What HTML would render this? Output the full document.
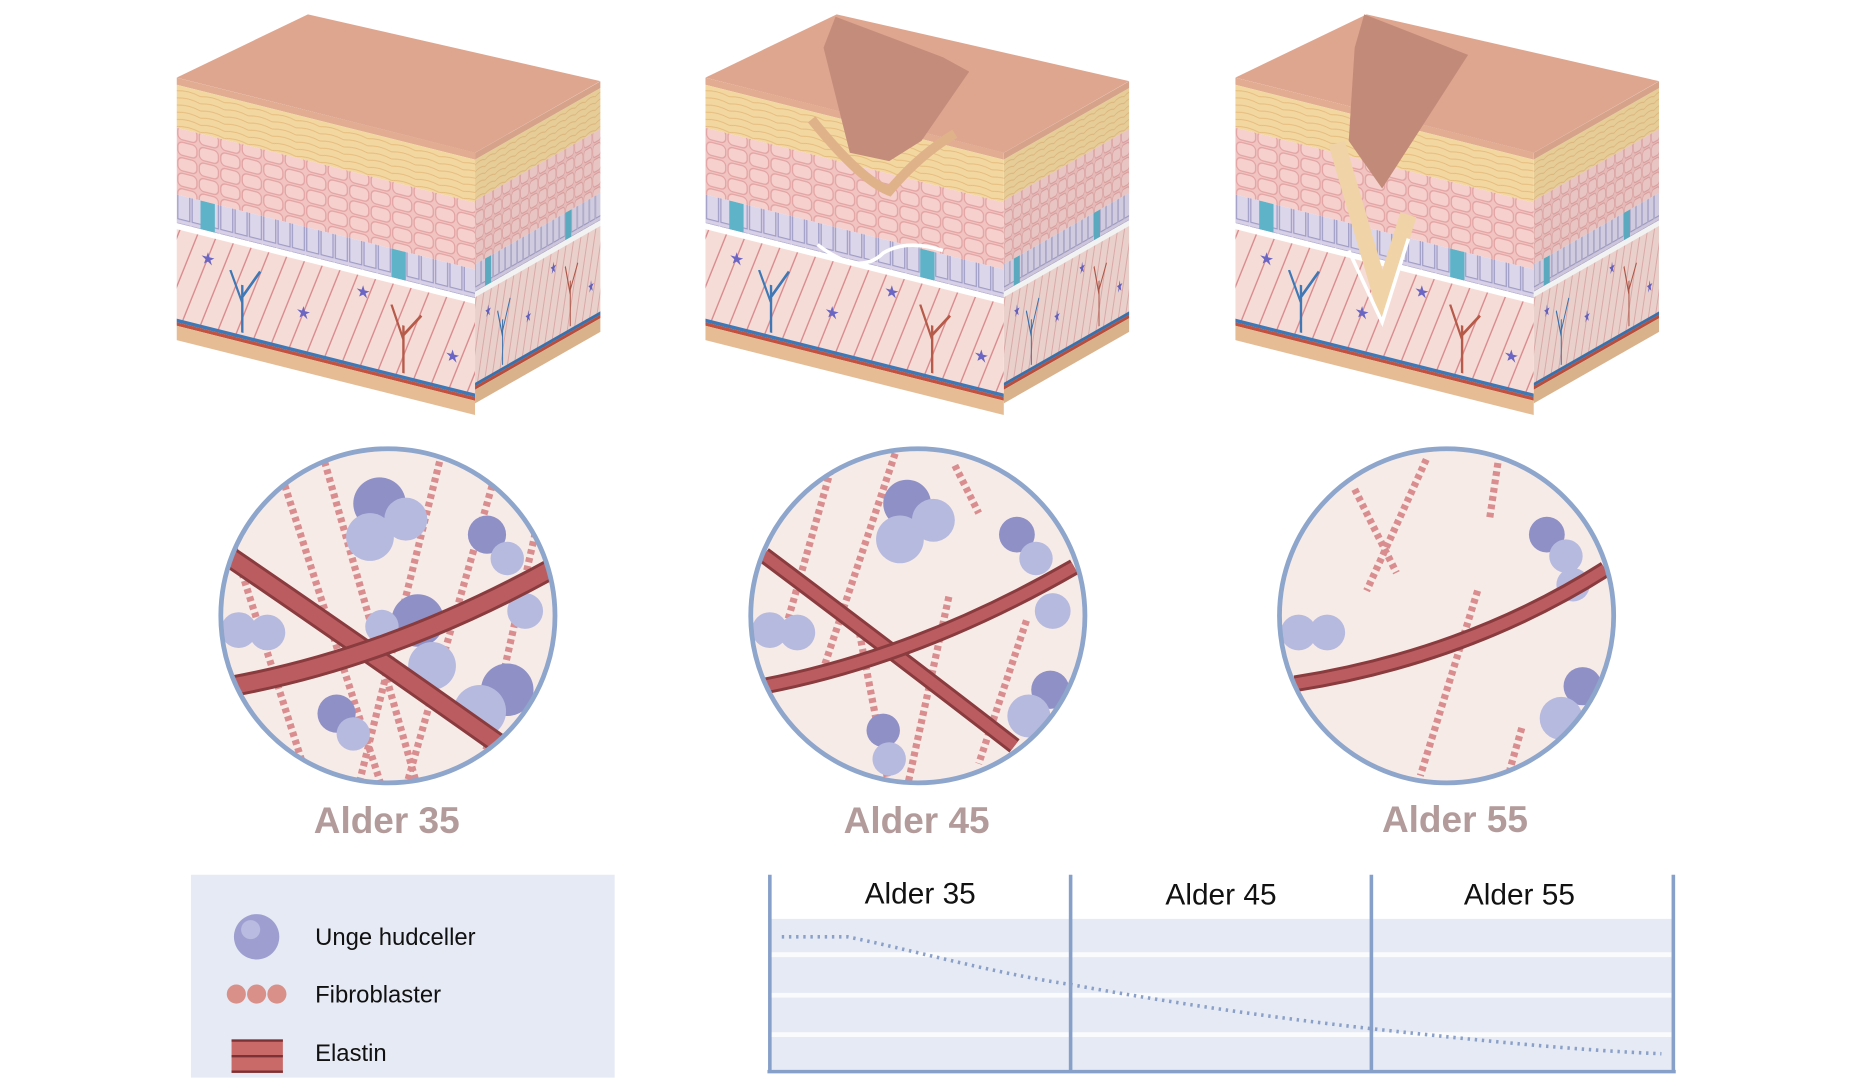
<!DOCTYPE html>
<html><head><meta charset="utf-8"><style>
html,body{margin:0;padding:0;background:#fff;width:1850px;height:1080px;overflow:hidden}
svg{display:block}
text{font-family:"Liberation Sans","DejaVu Sans",sans-serif}
</style></head><body>
<svg width="1850" height="1080" viewBox="0 0 1550 905" preserveAspectRatio="none" xmlns="http://www.w3.org/2000/svg">
<defs>
  <pattern id="fib" width="14" height="14" patternUnits="userSpaceOnUse" patternTransform="rotate(20)">
    <rect width="14" height="14" fill="#f6dcd6"/>
    <line x1="4" y1="0" x2="4" y2="14" stroke="#d7868a" stroke-width="1"/>
  </pattern>
  <pattern id="cells" width="18" height="13" patternUnits="userSpaceOnUse">
    <rect width="18" height="13" fill="#f1c4c2"/>
    <rect x="1" y="1" width="16" height="11" rx="4" fill="#f5d0cd" stroke="#e2a2a2" stroke-width="1"/>
  </pattern>
  <pattern id="yel" width="20" height="6" patternUnits="userSpaceOnUse">
    <rect width="20" height="6" fill="#f3d7a0"/>
    <path d="M0 5 Q10 2 20 5" stroke="#e5bb7d" fill="none" stroke-width="0.8"/>
  </pattern>
  <pattern id="base" width="12" height="30" patternUnits="userSpaceOnUse">
    <rect width="12" height="30" fill="#d8d0e6"/>
    <rect x="1" y="2" width="10" height="26" fill="#dcd6ea" stroke="#9e9cc6" stroke-width="1"/>
  </pattern>
  <g id="layers">
    <rect x="0" y="0" width="260" height="6" fill="#e2ac92"/>
    <rect x="0" y="6" width="260" height="36" fill="url(#yel)"/>
    <rect x="0" y="42" width="260" height="56" fill="url(#cells)"/>
    <rect x="0" y="98" width="260" height="24" fill="url(#base)"/>
    <rect x="20" y="98" width="12" height="24" fill="#5fb3c9"/>
    <rect x="180" y="98" width="12" height="24" fill="#5fb3c9"/>
    <rect x="0" y="122" width="260" height="5" fill="#ffffff"/>
    <rect x="0" y="127" width="260" height="80" fill="url(#fib)"/>
    <path d="M55 200 L55 160 M55 175 L45 150 M55 170 L70 145" stroke="#3f78b5" stroke-width="2" fill="none"/>
    <path d="M190 200 L190 160 M190 172 L180 145 M190 168 L205 148" stroke="#b65a4a" stroke-width="2" fill="none"/>
    <text x="20" y="150" font-size="14" fill="#6b66c4">★</text>
    <text x="100" y="175" font-size="14" fill="#6b66c4">★</text>
    <text x="150" y="145" font-size="14" fill="#6b66c4">★</text>
    <text x="225" y="180" font-size="14" fill="#6b66c4">★</text>
    <rect x="0" y="202" width="260" height="3" fill="#3f78b5"/>
    <rect x="0" y="205" width="260" height="3" fill="#c2523f"/>
    <rect x="0" y="208" width="260" height="14" fill="#e5bc94"/>
  </g>
  <g id="block">
    <polygon points="148,65 258,12 503,68 398,128" fill="#dea68f"/>
    <g transform="translate(148,65) skewY(14.1)">
      <svg width="250" height="220" viewBox="0 0 250 220" overflow="hidden"><use href="#layers"/></svg>
    </g>
    <g transform="translate(398,128) skewY(-29.7)">
      <svg width="105" height="210" viewBox="0 0 250 220" preserveAspectRatio="none" overflow="hidden"><use href="#layers"/></svg>
      <rect width="105" height="210" fill="#000" opacity="0.05"/>
    </g>
  </g>
  <clipPath id="c1"><circle cx="325" cy="516" r="140"/></clipPath>
  <clipPath id="c2"><circle cx="769" cy="516" r="140"/></clipPath>
  <clipPath id="c3"><circle cx="1212" cy="516" r="140"/></clipPath>
</defs>

<!-- Blocks -->
<use href="#block"/>
<use href="#block" x="443"/>
<polygon points="700,14 790,48 812,60 772,118 745,135 712,128 690,40" fill="#c48c7a"/>
<path d="M680 100 Q720 150 745 160 Q770 130 800 112" stroke="#e0b28a" stroke-width="8" fill="none"/>
<path d="M685 205 Q720 232 740 212 Q760 200 790 210" stroke="#ffffff" stroke-width="3" fill="none"/>
<use href="#block" x="887"/>
<polygon points="1143,12 1230,46 1158,158 1130,118 1135,40" fill="#c28a78"/>
<path d="M1120 120 L1158 250 L1180 180" stroke="#f0d3a6" stroke-width="14" fill="none"/>
<path d="M1130 210 L1158 270 L1180 200" stroke="#ffffff" stroke-width="3" fill="none"/>

<!-- Circles -->
<g clip-path="url(#c1)">
  <rect x="180" y="370" width="290" height="290" fill="#f7ebe8"/>
  <g stroke="#d98d8f" stroke-width="6" stroke-dasharray="4 3" fill="none">
    <line x1="230" y1="380" x2="320" y2="660"/><line x1="270" y1="380" x2="350" y2="660"/>
    <line x1="370" y1="380" x2="300" y2="660"/><line x1="420" y1="380" x2="340" y2="660"/>
    <line x1="190" y1="440" x2="260" y2="660"/><line x1="450" y1="440" x2="400" y2="660"/>
  </g>
  <g fill="#8f90c6"><circle cx="318" cy="422" r="22"/><circle cx="408" cy="448" r="16"/><circle cx="350" cy="520" r="22"/><circle cx="425" cy="578" r="22"/><circle cx="282" cy="598" r="16"/></g>
  <g fill="#b7badf"><circle cx="310" cy="450" r="20"/><circle cx="340" cy="435" r="18"/><circle cx="425" cy="468" r="14"/><circle cx="440" cy="512" r="15"/><circle cx="200" cy="528" r="15"/><circle cx="224" cy="530" r="15"/><circle cx="362" cy="558" r="20"/><circle cx="402" cy="596" r="22"/><circle cx="296" cy="615" r="14"/><circle cx="320" cy="525" r="14"/></g>
  <path d="M190 465 Q300 540 420 625" stroke="#8a3b3e" stroke-width="18" fill="none"/>
  <path d="M190 465 Q300 540 420 625" stroke="#bb5d60" stroke-width="13" fill="none"/>
  <path d="M195 575 Q330 550 465 475" stroke="#8a3b3e" stroke-width="18" fill="none"/>
  <path d="M195 575 Q330 550 465 475" stroke="#bb5d60" stroke-width="13" fill="none"/>
</g>
<circle cx="325" cy="516" r="140" fill="none" stroke="#8ea5cc" stroke-width="4"/>

<g clip-path="url(#c2)">
  <rect x="620" y="370" width="300" height="300" fill="#f7ebe8"/>
  <g stroke="#d98d8f" stroke-width="6" stroke-dasharray="4 3" fill="none">
    <line x1="700" y1="380" x2="660" y2="520"/><line x1="750" y1="380" x2="690" y2="560"/>
    <line x1="800" y1="390" x2="820" y2="430"/><line x1="795" y1="500" x2="760" y2="660"/>
    <line x1="860" y1="520" x2="820" y2="640"/><line x1="720" y1="530" x2="745" y2="660"/>
  </g>
  <g fill="#8f90c6"><circle cx="760" cy="422" r="20"/><circle cx="852" cy="448" r="15"/><circle cx="880" cy="578" r="16"/><circle cx="740" cy="612" r="14"/></g>
  <g fill="#b7badf"><circle cx="754" cy="452" r="20"/><circle cx="782" cy="436" r="18"/><circle cx="868" cy="468" r="14"/><circle cx="882" cy="512" r="15"/><circle cx="645" cy="528" r="15"/><circle cx="668" cy="530" r="15"/><circle cx="862" cy="600" r="18"/><circle cx="745" cy="636" r="14"/></g>
  <path d="M640 465 Q740 540 850 625" stroke="#8a3b3e" stroke-width="14" fill="none"/>
  <path d="M640 465 Q740 540 850 625" stroke="#bb5d60" stroke-width="9" fill="none"/>
  <path d="M640 575 Q770 550 900 475" stroke="#8a3b3e" stroke-width="14" fill="none"/>
  <path d="M640 575 Q770 550 900 475" stroke="#bb5d60" stroke-width="9" fill="none"/>
</g>
<circle cx="769" cy="516" r="140" fill="none" stroke="#8ea5cc" stroke-width="4"/>

<g clip-path="url(#c3)">
  <rect x="1065" y="370" width="300" height="300" fill="#f7ebe8"/>
  <g stroke="#d98d8f" stroke-width="6" stroke-dasharray="4 3" fill="none">
    <line x1="1135" y1="410" x2="1170" y2="480"/><line x1="1195" y1="385" x2="1145" y2="495"/>
    <line x1="1255" y1="388" x2="1248" y2="435"/><line x1="1238" y1="495" x2="1190" y2="650"/>
    <line x1="1275" y1="610" x2="1265" y2="645"/>
  </g>
  <g fill="#8f90c6"><circle cx="1296" cy="448" r="15"/><circle cx="1326" cy="575" r="16"/></g>
  <g fill="#b7badf"><circle cx="1312" cy="466" r="14"/><circle cx="1318" cy="490" r="14"/><circle cx="1088" cy="530" r="15"/><circle cx="1112" cy="530" r="15"/><circle cx="1308" cy="602" r="18"/></g>
  <path d="M1085 573 Q1230 550 1345 477" stroke="#8a3b3e" stroke-width="14" fill="none"/>
  <path d="M1085 573 Q1230 550 1345 477" stroke="#bb5d60" stroke-width="9" fill="none"/>
</g>
<circle cx="1212" cy="516" r="140" fill="none" stroke="#8ea5cc" stroke-width="4"/>

<!-- Labels -->
<g font-size="31" font-weight="bold" fill="#b29b9a" text-anchor="middle">
  <text x="324" y="698">Alder 35</text>
  <text x="768" y="698">Alder 45</text>
  <text x="1219" y="697">Alder 55</text>
</g>

<!-- Legend -->
<rect x="160" y="733" width="355" height="170" fill="#e6eaf4"/>
<circle cx="215" cy="785" r="19" fill="#9e9fd0"/>
<circle cx="210" cy="779" r="8" fill="#b9bbe0"/>
<g fill="#d99088"><circle cx="198" cy="833" r="8"/><circle cx="215" cy="833" r="8"/><circle cx="232" cy="833" r="8"/></g>
<rect x="194" y="871" width="43" height="28" fill="#c96a68"/>
<line x1="194" y1="885" x2="237" y2="885" stroke="#7b3235" stroke-width="2"/>
<line x1="194" y1="872" x2="237" y2="872" stroke="#7b3235" stroke-width="2"/>
<line x1="194" y1="898" x2="237" y2="898" stroke="#7b3235" stroke-width="2"/>
<g font-size="20" fill="#111">
  <text x="264" y="792">Unge hudceller</text>
  <text x="264" y="840">Fibroblaster</text>
  <text x="264" y="889">Elastin</text>
</g>

<!-- Chart -->
<rect x="645" y="770" width="757" height="128" fill="#e6eaf4"/>
<g stroke="#fafbfd" stroke-width="4">
  <line x1="645" y1="800" x2="1402" y2="800"/><line x1="645" y1="834" x2="1402" y2="834"/><line x1="645" y1="867" x2="1402" y2="867"/>
</g>
<g stroke="#87a0c9" stroke-width="3">
  <line x1="645" y1="733" x2="645" y2="899"/><line x1="897" y1="733" x2="897" y2="899"/>
  <line x1="1149" y1="733" x2="1149" y2="899"/><line x1="1402" y1="733" x2="1402" y2="899"/>
  <line x1="643" y1="898" x2="1404" y2="898"/>
</g>
<path d="M655 785 L710 785 C760 795 830 815 897 825 C980 840 1060 852 1149 862 C1240 872 1320 880 1392 883" stroke="#8aa0c8" stroke-width="3" stroke-dasharray="2 4" fill="none"/>
<g font-size="25" fill="#111" text-anchor="middle">
  <text x="771" y="757">Alder 35</text>
  <text x="1023" y="758">Alder 45</text>
  <text x="1273" y="758">Alder 55</text>
</g>
</svg>
</body></html>
